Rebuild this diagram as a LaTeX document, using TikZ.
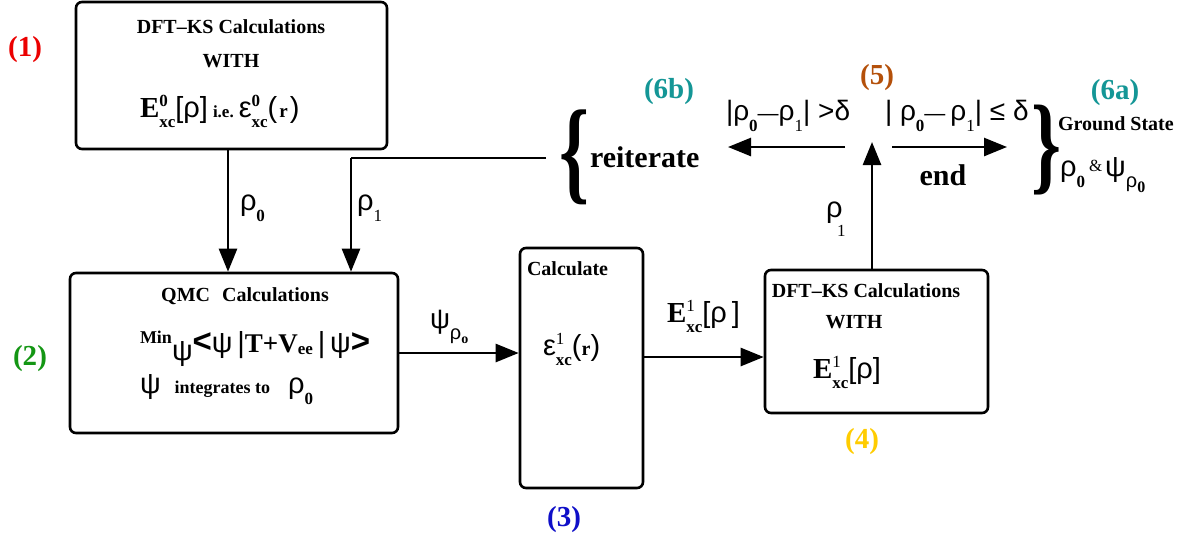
\documentclass[tikz,border=0pt]{standalone}
\usepackage{fontspec}
\setmainfont{Liberation Serif}
\newfontfamily\gr{Liberation Sans}
\usetikzlibrary{arrows.meta}
\newcommand\fs[1]{\fontsize{#1pt}{#1pt}\selectfont}
\newcommand\SupSub[3][17]{{\fs{#1}\bfseries\rlap{\raisebox{.62em}{#2}}\raisebox{-.62em}{#3}}}
\newcommand\SubB[2][17]{{\fs{#1}\bfseries\raisebox{-.7em}{#2}}}
\newcommand\SubN[2][17]{{\fs{#1}\raisebox{-.7em}{#2}}}
\definecolor{cred}{RGB}{235,0,0}
\definecolor{cgreen}{RGB}{20,150,20}
\definecolor{cblue}{RGB}{15,15,200}
\definecolor{cyellow}{RGB}{255,204,0}
\definecolor{cbrown}{RGB}{180,80,10}
\definecolor{cteal}{RGB}{20,150,150}
\begin{document}
\begin{tikzpicture}[x=1pt,y=-1pt,
  box/.style={draw, line width=2.6pt, rounded corners=6pt, inner sep=0},
  arr/.style={line width=2.6pt, -{Triangle[length=23pt,width=18pt]}},
  ln/.style={line width=2.6pt},
  txt/.style={inner sep=0, outer sep=0},
  hd/.style={txt, font=\fs{20}\bfseries},
  num/.style={txt, font=\fs{29}\bfseries},
]
\useasboundingbox (0,0) rectangle (1185,539);

% boxes
\node[box, minimum width=311pt, minimum height=147pt] (b1) at (231.5,75.5) {};
\node[box, minimum width=328pt, minimum height=160pt] (b2) at (234,353) {};
\node[box, minimum width=123pt, minimum height=240pt] (b3) at (581.5,368) {};
\node[box, minimum width=223pt, minimum height=143pt] (b4) at (876.5,341.5) {};

% box 1 text
\node[hd] (t1a) at (231,27) {DFT–KS Calculations};
\node[hd] (t1b) at (231,61) {WITH};
\node[txt, anchor=base west] (t1c) at (140,117) {{\fs{29}\bfseries E}\SupSub{0}{xc}{\gr\fs{29}[ρ]}\hspace{5pt}{\fs{17}\bfseries i.e.}\hspace{5pt}{\gr\fs{29}ε}\SupSub{0}{xc}{\gr\fs{29}(}\hspace{2pt}{\fs{19}\bfseries r}\hspace{2pt}{\gr\fs{29})}};

% box 2 text
\node[hd] (t2a) at (245,296) {QMC\hspace{0.6em}Calculations};
\node[txt, anchor=base west] (t2b) at (140,352) {{\fs{18}\bfseries\raisebox{.45em}{Min}}{\gr\fs{29}\raisebox{-.3em}{ψ}}{\gr\fs{33}\bfseries <}{\gr\fs{29}ψ\,|}{\fs{27}\bfseries T+V}{\fs{17}\bfseries\raisebox{-.12em}{ee}}{\gr\fs{29}\,|\,ψ}{\gr\fs{33}\bfseries >}};
\node[txt, anchor=base west] (t2c) at (140,393) {{\gr\fs{29}ψ}\hspace{14pt}{\fs{18}\bfseries integrates to}\hspace{18pt}{\gr\fs{29}ρ}\SubB{0}};

% box 3 text
\node[hd, anchor=west] (t3a) at (527,269) {Calculate};
\node[txt, anchor=base west] (t3b) at (543,355) {{\gr\fs{29}ε}\SupSub{\mdseries 1}{xc}{\gr\fs{29}(}{\fs{20}\bfseries r}{\gr\fs{29})}};

% box 4 text
\node[hd] (t4a) at (866,291) {DFT–KS Calculations};
\node[hd] (t4b) at (854,322) {WITH};
\node[txt, anchor=base west] (t4c) at (813,378) {{\fs{29}\bfseries E}\SupSub{\mdseries 1}{xc}{\gr\fs{29}[ρ]}};

% connectors
\coordinate (x0) at (228,0);
\draw[arr] (x0 |- b1.south) -- (x0 |- b2.north);
\node[txt, anchor=base west] (l0) at (240,210) {{\gr\fs{29}ρ}\SubB{0}};

\coordinate (r1) at (351,158);
\coordinate (re) at (546,158);
\draw[ln] (re) -- (r1);
\draw[arr] (r1) -- (r1 |- b2.north);
\node[txt, anchor=base west] (l1) at (357,210) {{\gr\fs{29}ρ}\SubN{1}};

\draw[arr] (b2.east) -- (b3.west |- b2.east);
\node[txt, anchor=base west] (lpsi) at (430,328) {{\gr\fs{28}ψ}{\gr\fs{20}\raisebox{-.55em}{ρ}}{\fs{14}\bfseries\raisebox{-1.1em}{o}}};

\coordinate (ey) at (0,357);
\draw[arr] (b3.east |- ey) -- (b4.west |- ey);
\node[txt, anchor=base west] (lE) at (667,322) {{\fs{29}\bfseries E}\SupSub{\mdseries 1}{xc}{\gr\fs{29}[ρ\,]}};

\coordinate (d5) at (872,142);
\draw[arr] (b4.north -| d5) -- (d5);
\node[txt, anchor=base west] (l5) at (826,217) {\gr\fs{29}ρ};
\node[txt, anchor=base west] (l5s) at (837,236) {\fs{17}1};

\coordinate (la) at (845,147);
\coordinate (lb) at (728,147);
\draw[arr] (la) -- (lb);
\coordinate (ra) at (892,147);
\coordinate (rb) at (1007,147);
\draw[arr] (ra) -- (rb);

\node[txt, anchor=base west] (cgt) at (726,120) {{\gr\fs{28}|ρ}\SubB{0}{\gr\fs{21}—}{\gr\fs{28}ρ}\SubN{1}{\gr\fs{28}| >δ}};
\node[txt, anchor=base west] (cle) at (885,120) {{\gr\fs{28}| ρ}\SubB{0}{\gr\fs{21}—}\hspace{5pt}{\gr\fs{28}ρ}\SubN{1}{\gr\fs{28}| ≤ δ}};
\node[txt, anchor=base, font=\fs{30}\bfseries] (end) at (943,185) {end};

% reiterate
\node[txt] (lbr) at (574,157.5) {\resizebox*{30pt}{95pt}{\bfseries\{}};
\node[txt, anchor=base west, font=\fs{30}\bfseries] (rei) at (590,167) {reiterate};

% ground state
\node[txt] (rbr) at (1046,150) {\resizebox*{30pt}{90pt}{\bfseries\}}};
\node[txt, anchor=base west, font=\fs{20}\bfseries] (gs) at (1058,130) {Ground State};
\node[txt, anchor=base west] (gsv) at (1060,176) {{\gr\fs{29}ρ}\SubB{0}\hspace{4pt}{\fs{17}\raisebox{.25em}{\&}}\hspace{3pt}{\gr\fs{29}ψ}{\gr\fs{20}\raisebox{-.55em}{ρ}}{\fs{16}\bfseries\raisebox{-1.0em}{0}}};

% step numbers
\node[num, text=cred] (n1) at (25,50) {(1)};
\node[num, text=cgreen] (n2) at (30,359) {(2)};
\node[num, text=cblue] (n3) at (564,520) {(3)};
\node[num, text=cyellow] (n4) at (862,442) {(4)};
\node[num, text=cbrown] (n5) at (877,78) {(5)};
\node[num, text=cteal] (n6a) at (1115,93) {(6a)};
\node[num, text=cteal] (n6b) at (669,92) {(6b)};
\end{tikzpicture}
\end{document}
